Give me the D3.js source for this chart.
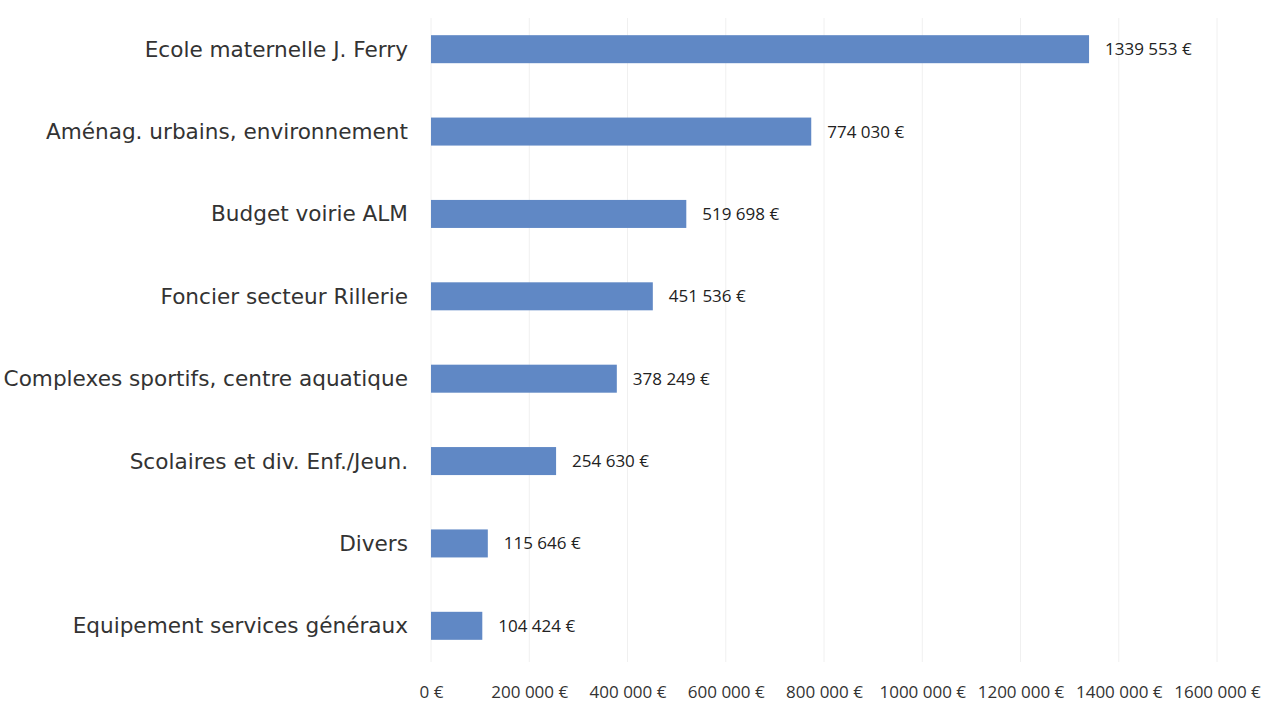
<!DOCTYPE html>
<html>
<head>
<meta charset="utf-8">
<script src="https://cdn.jsdelivr.net/npm/d3@7"></script>
<style>
  body { margin: 0; background: #fff; }
</style>
</head>
<body>
<div id="chart"></div>
<script>
var categories = ["Ecole maternelle J. Ferry", "Aménag. urbains, environnement", "Budget voirie ALM",
  "Foncier secteur Rillerie", "Complexes sportifs, centre aquatique", "Scolaires et div. Enf./Jeun.",
  "Divers", "Equipement services généraux"];
var values = [1339553, 774030, 519698, 451536, 378249, 254630, 115646, 104424];
var tickValues = [0, 200000, 400000, 600000, 800000, 1000000, 1200000, 1400000, 1600000];

(function() {
  var width = 1266, height = 702;

  var svg = d3.select("#chart").append("svg")
              .attr("width", width)
              .attr("height", height);

  var x = d3.scaleLinear().domain([0, 1600000]).range([431, 1217]);
  var y = d3.scaleBand().domain(categories).range([8, 667]).paddingInner(0.66).paddingOuter(0.33);

  // format like the source: "1339 553 €", "774 030 €"
  var fmt = function(v) {
    var s = String(v);
    if (s.length > 3) s = s.slice(0, s.length - 3) + " " + s.slice(-3);
    return s + " €";
  };

  // gridlines
  svg.append("g").selectAll("line")
     .data(tickValues)
     .enter().append("line")
     .attr("x1", function(d) { return x(d); })
     .attr("x2", function(d) { return x(d); })
     .attr("y1", 18)
     .attr("y2", 662)
     .attr("stroke", "#f0f0f0")
     .attr("stroke-width", 1);

  // bars
  svg.append("g").selectAll("rect")
     .data(values)
     .enter().append("rect")
     .attr("x", x(0))
     .attr("y", function(d, i) { return y(categories[i]); })
     .attr("width", function(d) { return x(d) - x(0); })
     .attr("height", y.bandwidth())
     .attr("fill", "#6088c5");

  // value labels
  svg.append("g").selectAll("text")
     .data(values)
     .enter().append("text")
     .attr("x", function(d) { return x(d) + 16; })
     .attr("y", function(d, i) { return y(categories[i]) + y.bandwidth() / 2; })
     .attr("dy", "0.35em")
     .attr("font-family", "'Open Sans', sans-serif")
     .attr("font-size", 17)
     .attr("fill", "#222")
     .text(fmt);

  // category labels
  svg.append("g").selectAll("text")
     .data(categories)
     .enter().append("text")
     .attr("x", 408)
     .attr("y", function(d) { return y(d) + y.bandwidth() / 2; })
     .attr("dy", "0.35em")
     .attr("text-anchor", "end")
     .attr("font-family", "'DejaVu Sans', sans-serif")
     .attr("font-size", 21.6)
     .attr("fill", "#333")
     .text(function(d) { return d; });

  // x axis
  var xAxis = d3.axisBottom(x).tickValues(tickValues).tickSize(0).tickPadding(0)
                .tickFormat(fmt);
  var ax = svg.append("g").attr("transform", "translate(0,686)").call(xAxis);
  ax.select(".domain").remove();
  ax.selectAll("text")
    .attr("font-family", "'Open Sans', sans-serif")
    .attr("font-size", 17)
    .attr("fill", "#333");
})();
</script>
</body>
</html>
